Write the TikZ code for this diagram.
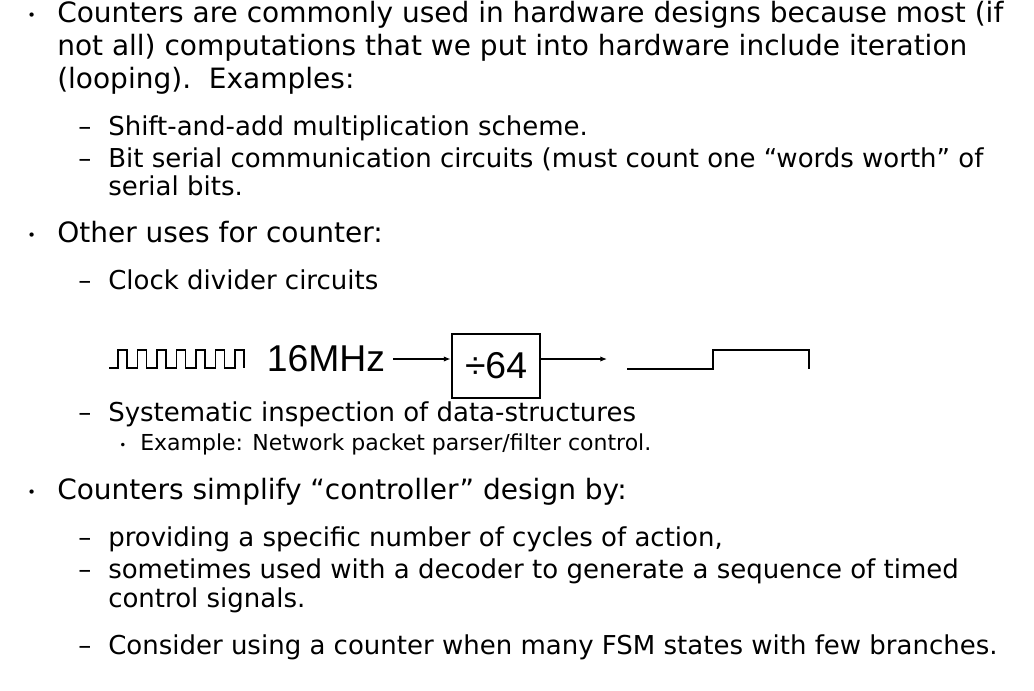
\documentclass[tikz,border=0pt]{standalone}
\usepackage{fontspec}
\setmainfont{DejaVu Sans}
\newfontfamily\arialfont{Liberation Sans}
\usetikzlibrary{arrows.meta}

\begin{document}
\begin{tikzpicture}[
    x=0.75pt, y=-0.75pt,
    lvone/.style={anchor=base west, inner sep=0pt, font=\fontsize{21}{25}\selectfont},
    lvtwo/.style={anchor=base west, inner sep=0pt, font=\fontsize{19.5}{23}\selectfont},
    lvthree/.style={anchor=base west, inner sep=0pt, font=\fontsize{16.5}{20}\selectfont},
    dot/.style={anchor=base west, inner sep=0pt, font=\fontsize{11}{12}\selectfont},
    sig/.style={font=\arialfont\fontsize{28}{30}\selectfont},
    divbox/.style={draw, line width=2.2pt, minimum width=66pt, minimum height=48pt, inner sep=0pt},
    arr/.style={-{Latex[length=5pt,width=4pt]}, line width=0.9pt},
    wave/.style={line width=1pt}
  ]
  \useasboundingbox (0,0) rectangle (1034,690);
  % first bullet
  \node[dot] (b1) at (27,20) {•};
  \node[lvone] (c1) at (57,22) {Counters are commonly used in hardware designs because most (if};
  \node[lvone] (c2) at (57,55) {not all) computations that we put into hardware include iteration};
  \node[lvone] (c3) at (57,88) {(looping).\ \ Examples:};
  \node[lvtwo] (d1) at (78,135) {\textendash};
  \node[lvtwo] (e1) at (108,135) {Shift-and-add multiplication scheme.};
  \node[lvtwo] (d2) at (78,167) {\textendash};
  \node[lvtwo] (e2) at (108,167) {Bit serial communication circuits (must count one “words worth” of};
  \node[lvtwo] (e3) at (108,195) {serial bits.};
  % second bullet
  \node[dot] (b2) at (27,240) {•};
  \node[lvone] (o1) at (57,242) {Other uses for counter:};
  \node[lvtwo] (d3) at (78,289) {\textendash};
  \node[lvtwo] (u1) at (108,289) {Clock divider circuits};
  % clock divider
  \draw[wave] (109,368) -- (118,368)
    -- ++(0,-18) -- ++(9,0) -- ++(0,18) -- ++(10.5,0)
    -- ++(0,-18) -- ++(9,0) -- ++(0,18) -- ++(10.5,0)
    -- ++(0,-18) -- ++(9,0) -- ++(0,18) -- ++(10.5,0)
    -- ++(0,-18) -- ++(9,0) -- ++(0,18) -- ++(10.5,0)
    -- ++(0,-18) -- ++(9,0) -- ++(0,18) -- ++(10.5,0)
    -- ++(0,-18) -- ++(9,0) -- ++(0,18) -- ++(10.5,0)
    -- ++(0,-18) -- ++(9,0) -- ++(0,18);
  \node[sig, inner sep=6pt] (mhz) at (326,359) {16MHz};
  \node[divbox, sig] (div) at (496,366) {÷64};
  \coordinate (out) at (607,359);
  \draw[arr] (mhz.east) -- (mhz.east -| div.west);
  \draw[arr] (div.east |- out) -- (out);
  \draw[wave, line width=1.3pt] (627,369) -- (713,369) -- (713,350) -- (809,350) -- (809,369);
  \node[lvtwo] (d4) at (78,421) {\textendash};
  \node[lvtwo] (u2) at (108,421) {Systematic inspection of data-structures};
  \node[dot, font=\fontsize{9}{10}\selectfont] (b3) at (119,449) {•};
  \node[lvthree] (u3) at (140,450) {Example: Network packet parser/filter control.};
  % third bullet
  \node[dot] (b4) at (27,497) {•};
  \node[lvone] (s1) at (57,499) {Counters simplify “controller” design by:};
  \node[lvtwo] (d5) at (78,546) {\textendash};
  \node[lvtwo] (s2) at (108,546) {providing a specific number of cycles of action,};
  \node[lvtwo] (d6) at (78,578) {\textendash};
  \node[lvtwo] (s3) at (108,578) {sometimes used with a decoder to generate a sequence of timed};
  \node[lvtwo] (s4) at (108,607) {control signals.};
  \node[lvtwo] (d7) at (78,654) {\textendash};
  \node[lvtwo] (s5) at (108,654) {Consider using a counter when many FSM states with few branches.};
\end{tikzpicture}
\end{document}
